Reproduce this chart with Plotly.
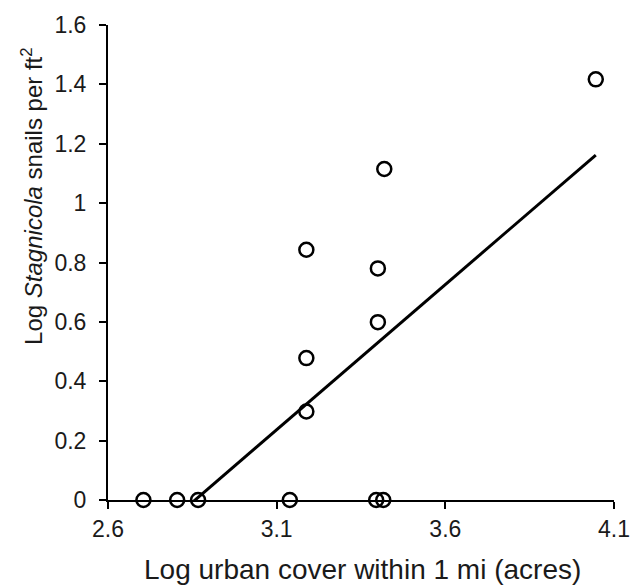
import plotly.graph_objects as go

# Data
urban_x = [2.705, 2.805, 2.867, 3.139, 3.395, 3.416,
           3.188, 3.188, 3.188, 3.400, 3.400, 3.419, 4.046]
snails_y = [0, 0, 0, 0, 0, 0,
            0.843, 0.478, 0.298, 0.780, 0.599, 1.115, 1.417]

# Linear trendline endpoints (as drawn in the reference)
trend_x = [2.705, 4.046]
trend_y = [-0.150, 1.162]

x_ticks = [2.6, 3.1, 3.6, 4.1]
y_ticks = [0, 0.2, 0.4, 0.6, 0.8, 1.0, 1.2, 1.4, 1.6]
y_tick_text = ["0", "0.2", "0.4", "0.6", "0.8", "1", "1.2", "1.4", "1.6"]

FONT = "Liberation Sans, Arial, sans-serif"
TXT = "#1a1a1a"

fig = go.Figure()
fig.add_trace(go.Scatter(
    x=trend_x, y=trend_y, mode="lines",
    line=dict(color="black", width=3),
    hoverinfo="skip", showlegend=False,
))
fig.add_trace(go.Scatter(
    x=urban_x, y=snails_y, mode="markers",
    marker=dict(symbol="circle-open", size=14, color="black",
                line=dict(color="black", width=2.5)),
    cliponaxis=False, showlegend=False,
))

fig.update_layout(
    width=642, height=586,
    margin=dict(l=108, r=21, t=19, b=86),
    paper_bgcolor="white", plot_bgcolor="white",
    font=dict(family=FONT, size=23, color=TXT),
    xaxis=dict(
        range=[2.6, 4.1], tickvals=x_ticks, ticktext=[str(v) for v in x_ticks],
        showgrid=False, zeroline=False,
        showline=True, linecolor="black", linewidth=2,
        ticks="outside", ticklen=7, tickwidth=2, tickcolor="black",
        tickfont=dict(size=23, color=TXT),
    ),
    yaxis=dict(
        range=[0, 1.6], tickvals=y_ticks, ticktext=y_tick_text,
        showgrid=False, zeroline=False,
        showline=True, linecolor="black", linewidth=2,
        ticks="outside", ticklen=7, tickwidth=2, tickcolor="black",
        tickfont=dict(size=23, color=TXT),
        ticklabelstandoff=8,
    ),
    annotations=[
        dict(
            text="Log <i>Stagnicola</i> snails per ft<sup>2</sup>",
            xref="paper", yref="paper",
            x=(31 - 108) / 513, y=(500 - 192) / 481,
            xanchor="center", yanchor="middle", textangle=-90,
            showarrow=False, font=dict(size=24, color=TXT),
        ),
        dict(
            text="Log urban cover within 1 mi (acres)",
            xref="paper", yref="paper",
            x=(366 - 108) / 513, y=(500 - 570) / 481,
            xanchor="center", yanchor="middle",
            showarrow=False, font=dict(size=28, color=TXT),
        ),
    ],
)

fig.write_html("out.html")
